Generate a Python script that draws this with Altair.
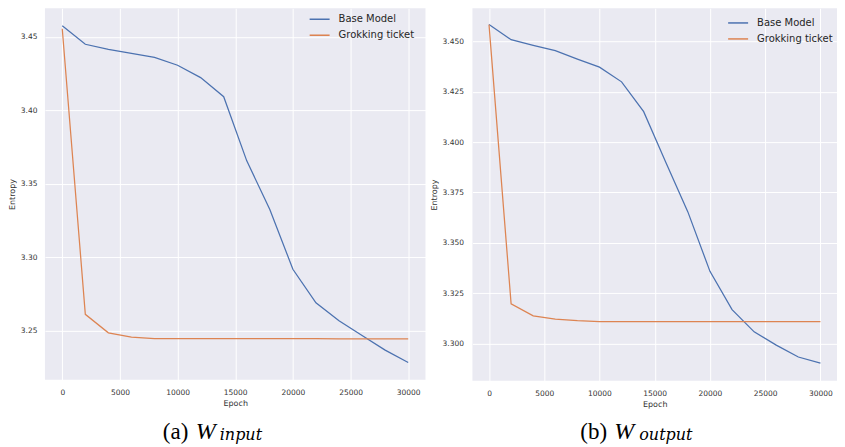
import altair as alt
import pandas as pd

# ---- data ----
epochs = [0, 2000, 4000, 6000, 8000, 10000, 12000, 14000, 16000, 18000,
          20000, 22000, 24000, 26000, 28000, 30000]

input_base = [3.4576, 3.4450, 3.4415, 3.4388, 3.4360, 3.4307, 3.4223, 3.4093,
              3.3656, 3.3325, 3.2918, 3.2689, 3.2567, 3.2467, 3.2367, 3.2283]
input_ticket = [3.4556, 3.2611, 3.2485, 3.2456, 3.2446, 3.2445, 3.2445, 3.2445,
                3.2445, 3.2445, 3.2445, 3.2445, 3.2443, 3.2443, 3.2443, 3.2443]

output_base = [3.4583, 3.4508, 3.4480, 3.4454, 3.4412, 3.4372, 3.4299, 3.4151,
               3.3900, 3.3654, 3.3359, 3.3169, 3.3059, 3.2993, 3.2934, 3.2904]
output_ticket = [3.4583, 3.3198, 3.3138, 3.3122, 3.3114, 3.3109, 3.3110, 3.3110,
                 3.3109, 3.3109, 3.3109, 3.3109, 3.3110, 3.3110, 3.3110, 3.3110]

series_names = ["Base Model", "Grokking ticket"]
series_colors = ["#4C72B0", "#DD8452"]

x_ticks = [0, 5000, 10000, 15000, 20000, 25000, 30000]
input_y_ticks = [3.25, 3.30, 3.35, 3.40, 3.45]
output_y_ticks = [3.300, 3.325, 3.350, 3.375, 3.400, 3.425, 3.450]

caption_labels = ["(a)", "(b)"]
caption_subs = ["input", "output"]

TEXT = "#333333"
SERIF = "Liberation Serif, Times New Roman, serif"


def panel(base, ticket, ydomain, yticks, yfmt, W, H, lx, ly,
          cap, sub, cx, wx, sx, ylabpad, cap_y):
    df = pd.DataFrame({
        "epoch": epochs + epochs,
        "value": base + ticket,
        "series": [series_names[0]] * len(epochs) + [series_names[1]] * len(epochs),
    })
    lines = alt.Chart(df).mark_line(strokeWidth=1.25).encode(
        x=alt.X("epoch:Q",
                scale=alt.Scale(domain=[-1500, 31500], nice=False, zero=False),
                axis=alt.Axis(values=x_ticks, format="d", title="Epoch",
                              labelPadding=9, titlePadding=3)),
        y=alt.Y("value:Q",
                scale=alt.Scale(domain=ydomain, nice=False, zero=False),
                axis=alt.Axis(values=yticks, format=yfmt, title="Entropy",
                              labelPadding=ylabpad, titlePadding=4)),
        color=alt.Color("series:N",
                        scale=alt.Scale(domain=series_names, range=series_colors),
                        legend=alt.Legend(title=None, orient="none",
                                          legendX=lx, legendY=ly,
                                          symbolType="stroke", symbolSize=400,
                                          symbolStrokeWidth=1.5,
                                          labelFont="DejaVu Sans",
                                          labelFontSize=10, labelColor="#262626",
                                          labelOffset=8, rowPadding=-5)),
    )
    t1 = alt.Chart(pd.DataFrame({"t": [cap]})).mark_text(
        font=SERIF, fontSize=23, align="left",
        baseline="alphabetic", color="black"
    ).encode(x=alt.value(cx), y=alt.value(cap_y), text="t:N")
    t2 = alt.Chart(pd.DataFrame({"t": ["W"]})).mark_text(
        font=SERIF, fontSize=24, fontStyle="italic", align="left",
        baseline="alphabetic", color="black"
    ).encode(x=alt.value(wx), y=alt.value(cap_y), text="t:N")
    t3 = alt.Chart(pd.DataFrame({"t": [sub]})).mark_text(
        font="DejaVu Serif, serif", fontSize=16, fontStyle="italic", align="left",
        baseline="alphabetic", color="black"
    ).encode(x=alt.value(sx), y=alt.value(cap_y + 1.5), text="t:N")
    return alt.layer(lines, t1, t2, t3).properties(width=W, height=H)


W1, H1 = 381, 372
W2, H2 = 365, 373

left = panel(input_base, input_ticket, [3.2165, 3.4695], input_y_ticks, ".2f",
             W1, H1, W1 - 117, 0, caption_labels[0], caption_subs[0],
             118, 151, 175, 8, 431)
right = panel(output_base, output_ticket, [3.2816, 3.4664], output_y_ticks, ".3f",
              W2, H2, W2 - 110, 3.7, caption_labels[1], caption_subs[1],
              108, 142, 167, 9, 431)

chart = alt.hconcat(left, right, spacing=4, padding=0,
                    background="white").resolve_scale(
    color="independent"
).configure_view(
    fill="#EAEAF2", stroke=None
).configure_axis(
    grid=True, gridColor="white", gridWidth=1, domain=False, ticks=False,
    tickSize=0, labelFont="DejaVu Sans", labelFontSize=7.5, labelColor=TEXT,
    titleFont="DejaVu Sans", titleFontSize=8, titleFontWeight="normal",
    titleColor=TEXT
)

chart.save("out.html", embed_options={"renderer": "svg", "actions": False})
